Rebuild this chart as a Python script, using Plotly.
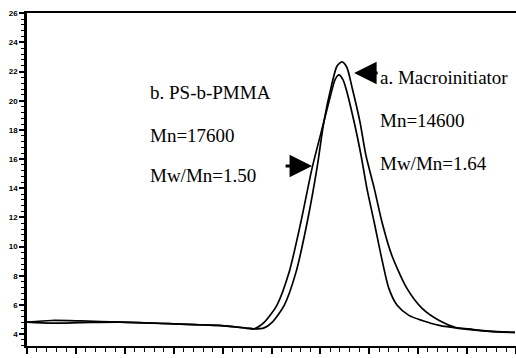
import plotly.graph_objects as go

# Curve a: Macroinitiator (elution time vs detector response)
a_x = [10.0, 10.5, 11.1, 11.9, 12.9, 13.9, 14.48, 14.64, 14.85, 15.01, 15.26, 15.50, 15.73, 15.93,
       16.07, 16.23, 16.34, 16.44, 16.54, 16.65, 16.81, 16.93, 17.10, 17.26, 17.46, 17.77,
       18.08, 18.43, 18.77, 19.04, 19.45, 19.98]
a_y = [4.82, 4.93, 4.90, 4.82, 4.71, 4.59, 4.41, 4.35, 4.42, 4.80, 5.97, 8.23, 11.67, 15.38,
       18.54, 21.09, 22.39, 22.67, 22.30, 20.88, 18.54, 16.27, 14.01, 11.67, 9.40, 7.13,
       5.76, 4.93, 4.45, 4.35, 4.18, 4.11]

# Curve b: PS-b-PMMA
b_x = [10.0, 10.5, 11.1, 11.9, 12.9, 13.9, 14.48, 14.64, 14.85, 15.11, 15.36, 15.60, 15.83,
       16.07, 16.21, 16.30, 16.38, 16.46, 16.52, 16.69, 16.83, 16.95, 17.10, 17.24, 17.40,
       17.57, 17.81, 18.08, 18.43, 18.83, 19.45, 19.98]
b_y = [4.82, 4.75, 4.78, 4.82, 4.71, 4.59, 4.41, 4.36, 4.80, 5.97, 8.23, 11.67, 15.38,
       18.54, 20.40, 21.45, 21.77, 21.45, 20.88, 18.54, 16.27, 14.01, 11.67, 9.40, 7.13,
       5.97, 5.28, 4.93, 4.59, 4.39, 4.20, 4.11]

x_ticks = list(range(10, 21))
y_ticks = list(range(4, 27, 2))

fig = go.Figure()
for xs, ys in [(a_x, a_y), (b_x, b_y)]:
    fig.add_trace(go.Scatter(x=xs, y=ys, mode="lines",
                             line=dict(color="black", width=1.7, shape="spline", smoothing=0.7),
                             showlegend=False, hoverinfo="skip"))

serif = "Liberation Serif"
tf = dict(family=serif, size=19, color="black")

texts = [
    (17.20, 21.57, "a. Macroinitiator"),
    (17.20, 18.68, "Mn=14600"),
    (17.20, 15.73, "Mw/Mn=1.64"),
    (12.49, 20.54, "b. PS-b-PMMA"),
    (12.49, 17.65, "Mn=17600"),
    (12.49, 14.90, "Mw/Mn=1.50"),
]
ann = []
for x, y, t in texts:
    ann.append(dict(x=x, y=y, xref="x", yref="y", text=t, showarrow=False,
                    xanchor="left", yanchor="middle", font=tf, borderpad=0))

# arrows
ann.append(dict(x=16.69, y=21.91, xref="x", yref="y", text="", showarrow=True,
                arrowhead=2, arrowsize=1.5, arrowwidth=3, arrowcolor="black",
                ax=25, ay=0))
ann.append(dict(x=15.83, y=15.52, xref="x", yref="y", text="", showarrow=True,
                arrowhead=2, arrowsize=1.5, arrowwidth=3, arrowcolor="black",
                ax=-28, ay=0))

fig.update_layout(
    width=516, height=358,
    margin=dict(l=27, r=0, t=13, b=12),
    paper_bgcolor="white", plot_bgcolor="white",
    annotations=ann,
)
fig.update_xaxes(range=[10, 20], tickvals=x_ticks, ticktext=[str(v) for v in x_ticks],
                 automargin=False,
                 ticks="outside", ticklen=6, tickwidth=1.5, tickcolor="black",
                 minor=dict(dtick=0.2, tick0=10, ticks="outside", ticklen=4, tickwidth=1.2, tickcolor="black"),
                 showline=True, linecolor="black", linewidth=2, mirror=True,
                 showgrid=False, zeroline=False,
                 tickfont=dict(family="Liberation Sans", size=10, color="black", weight="bold"))
fig.update_yaxes(range=[3.18, 26.02], tickvals=y_ticks, ticktext=[str(v) for v in y_ticks],
                 automargin=False,
                 ticks="outside", ticklen=5, tickwidth=1.5, tickcolor="black",
                 minor=dict(dtick=0.4, tick0=4, ticks="outside", ticklen=3, tickwidth=1, tickcolor="black"),
                 showline=True, linecolor="black", linewidth=2.5,
                 showgrid=False, zeroline=False,
                 tickfont=dict(family="Liberation Sans", size=8, color="black", weight="bold"))

fig.write_html("out.html")
